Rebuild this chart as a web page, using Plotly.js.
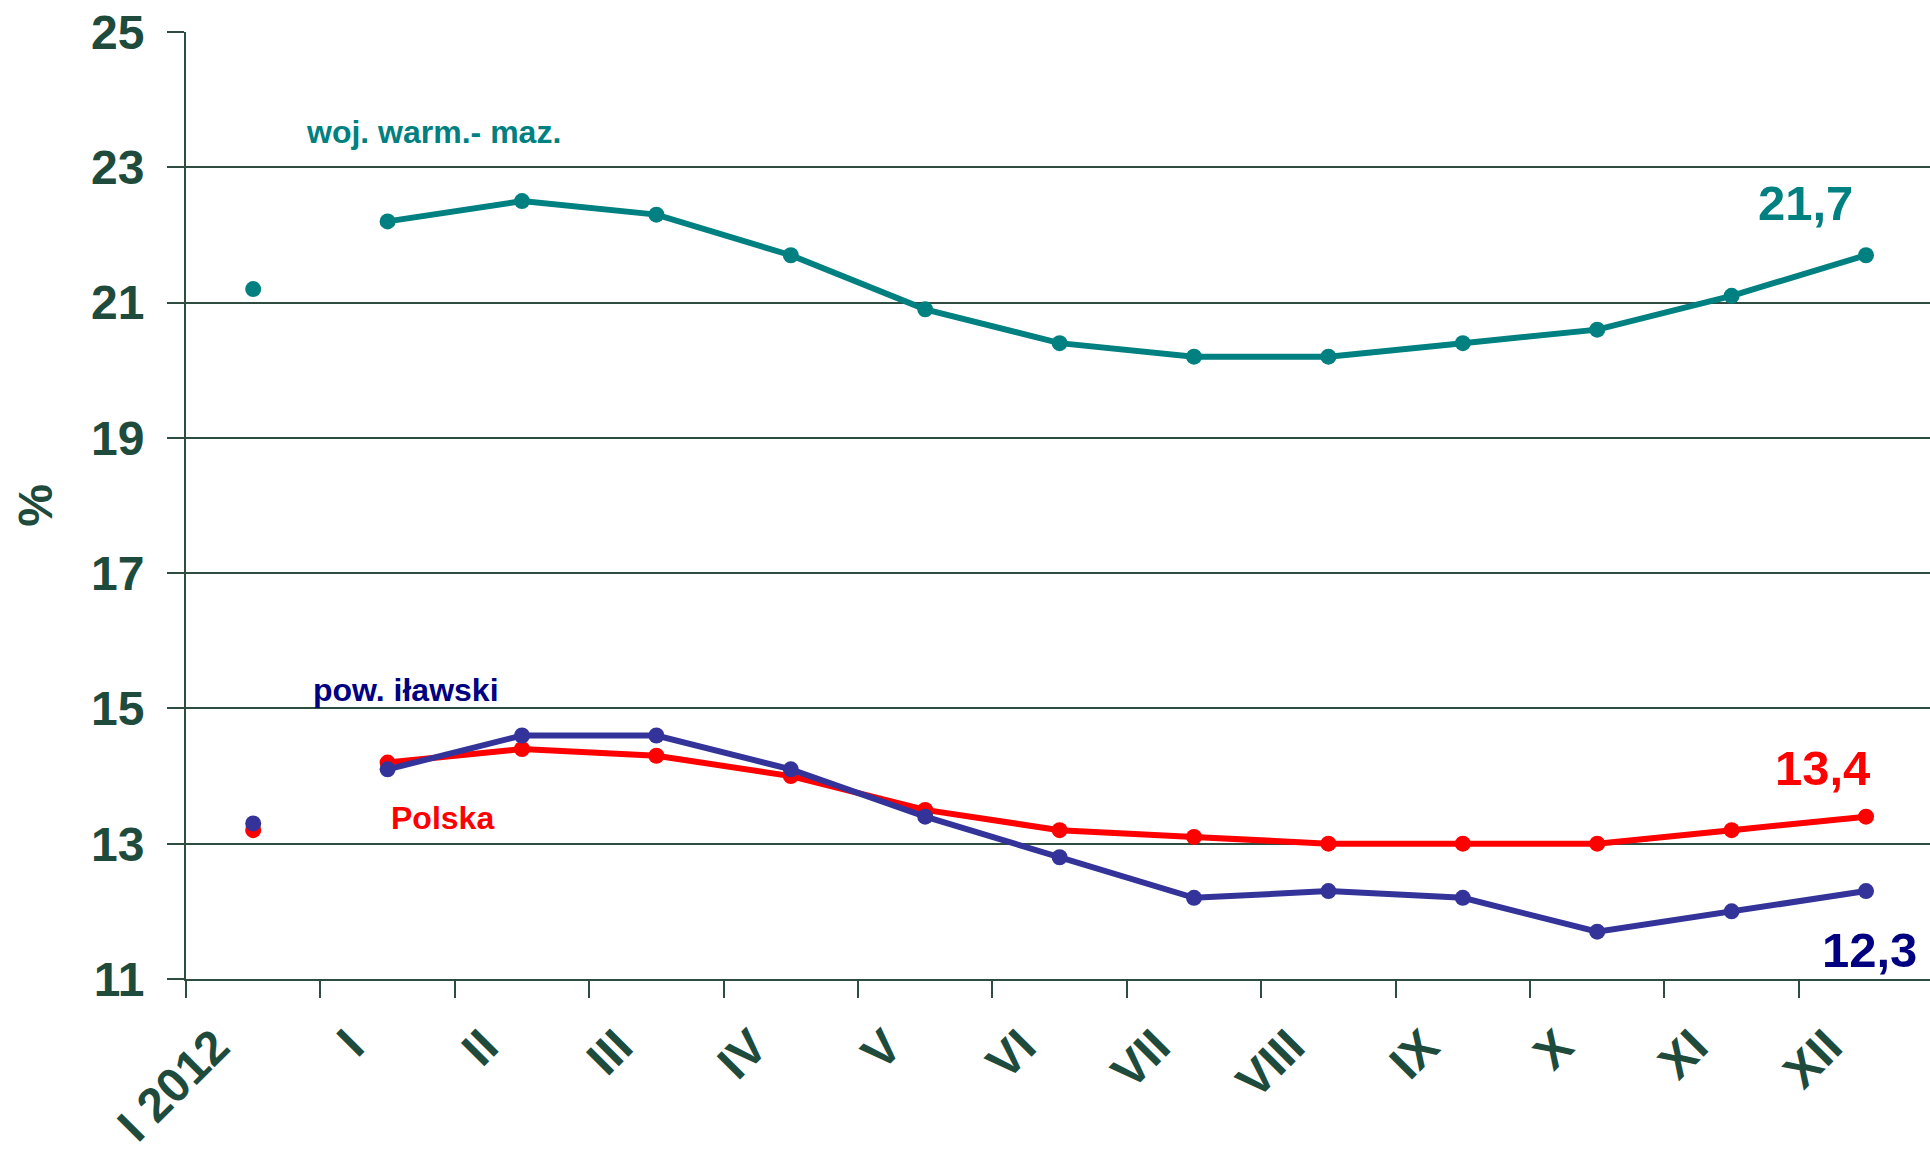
<!DOCTYPE html>
<html>
<head>
<meta charset="utf-8">
<script src="https://cdn.plot.ly/plotly-3.0.1.min.js"></script>
<style>html,body{margin:0;padding:0;background:#fff;}#chart{width:1930px;height:1161px;}</style>
</head>
<body>
<div id="chart"></div>
<script>
const categories = ["I 2012", "I", "II", "III", "IV", "V", "VI", "VII", "VIII", "IX", "X", "XI", "XII"];
const wojValues = [21.2, 22.2, 22.5, 22.3, 21.7, 20.9, 20.4, 20.2, 20.2, 20.4, 20.6, 21.1, 21.7];
const polskaValues = [13.2, 14.2, 14.4, 14.3, 14.0, 13.5, 13.2, 13.1, 13.0, 13.0, 13.0, 13.2, 13.4];
const powValues = [13.3, 14.1, 14.6, 14.6, 14.1, 13.4, 12.8, 12.2, 12.3, 12.2, 11.7, 12.0, 12.3];
const yTicks = [11, 13, 15, 17, 19, 21, 23, 25];
const seriesNames = ["woj. warm.- maz.", "Polska", "pow. iławski"];
const endLabels = ["21,7", "13,4", "12,3"];

const FONT = "Liberation Sans, Arial, sans-serif";
const AXC = "#1E4B3C";
const colors = ["#008080", "#FF0000", "#333399"];
const labelColors = ["#008080", "#FF0000", "#000080"];
const allSeries = [wojValues, polskaValues, powValues];

const traces = [];
allSeries.forEach((vals, i) => {
  traces.push({
    x: categories.slice(0, 1), y: vals.slice(0, 1),
    type: "scatter", mode: "markers",
    marker: {color: colors[i], size: 16},
    hoverinfo: "skip", showlegend: false
  });
  traces.push({
    x: categories.slice(1), y: vals.slice(1),
    type: "scatter", mode: "lines+markers",
    line: {color: colors[i], width: 6},
    marker: {color: colors[i], size: 16},
    name: seriesNames[i], hoverinfo: "skip", showlegend: false
  });
});

const last = categories.length - 1;
const endShift = [[-61, 52], [-44, 49], [3, -59]];
const annotations = endLabels.map((t, i) => ({
  x: categories[last], y: allSeries[i][last], xref: "x", yref: "y",
  text: "<b>" + t + "</b>", showarrow: false,
  xshift: endShift[i][0], yshift: endShift[i][1],
  font: {family: FONT, size: 49, color: labelColors[i]},
  xanchor: "center", yanchor: "middle"
}));
const namePos = [[1.338, 23.52], [1.405, 13.38], [1.137, 15.27]];
seriesNames.forEach((n, i) => {
  annotations.push({
    x: namePos[i][0], y: namePos[i][1], xref: "x", yref: "y",
    text: "<b>" + n + "</b>", showarrow: false,
    font: {family: FONT, size: 32, color: labelColors[i]},
    xanchor: "center", yanchor: "middle"
  });
});

const layout = {
  width: 1930, height: 1161,
  margin: {l: 186, r: 0, t: 31.5, b: 181.5, pad: 0},
  paper_bgcolor: "#ffffff", plot_bgcolor: "#ffffff",
  font: {family: FONT, color: AXC},
  showlegend: false,
  xaxis: {
    type: "category", categoryorder: "array", categoryarray: categories,
    range: [-0.5, 12.476],
    showgrid: false, zeroline: false,
    showline: true, linecolor: "#2E4D40", linewidth: 2,
    ticks: "outside", ticklen: 17, tickwidth: 2, tickcolor: "#2E4D40",
    tickson: "boundaries",
    tickangle: -45,
    tickfont: {family: FONT, size: 48, color: AXC, weight: "bold"},
    ticklabelstandoff: 18,
    ticklabelshift: -38
  },
  yaxis: {
    range: [11, 25], tickvals: yTicks, ticktext: yTicks.map(String),
    showgrid: true, gridcolor: "#2E4D40", gridwidth: 2,
    zeroline: false,
    showline: true, linecolor: "#2E4D40", linewidth: 2,
    ticks: "outside", ticklen: 17, tickwidth: 2, tickcolor: "#2E4D40",
    tickfont: {family: FONT, size: 48, color: AXC, weight: "bold"},
    ticklabelstandoff: 13,
    title: {text: "<b>%</b>", font: {family: FONT, size: 48, color: AXC}, standoff: 23}
  },
  annotations: annotations
};

Plotly.newPlot("chart", traces, layout, {displayModeBar: false, staticPlot: true});
</script>
</body>
</html>
